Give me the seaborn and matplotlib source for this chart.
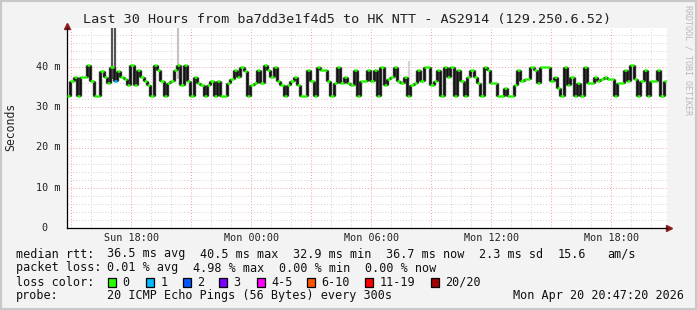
import numpy as np
import pandas as pd
import matplotlib
matplotlib.use("Agg")
import matplotlib.pyplot as plt
import seaborn as sns

# ---------------- data ----------------
start_hour = 14.789          # Sun 14:47:20, hours since Sun 00:00
span_hours = 30.0
step_hours = 1.0 / 6.0       # 10-minute samples

median_ms = [
    32.9, 36.6, 37.4, 32.9, 37.4, 37.4, 40.4, 36.6, 32.9, 32.9, 39.1, 37.4, 36.0, 39.9, 36.6, 39.1, 37.4, 37.1,
    35.6, 40.4, 35.6, 39.3, 37.4, 36.6, 35.6, 32.9, 40.4, 39.3, 36.6, 32.9, 36.0, 36.6, 39.3, 40.4, 35.6, 40.4,
    36.6, 32.9, 37.4, 36.0, 35.6, 32.9, 35.6, 36.6, 32.9, 36.6, 32.9, 32.9, 36.0, 37.1, 39.3, 37.4, 39.9, 39.1,
    32.9, 35.6, 36.0, 39.3, 36.0, 40.4, 39.3, 37.4, 39.9, 36.6, 35.6, 32.9, 35.6, 36.6, 37.4, 35.6, 32.9, 32.9,
    39.3, 36.6, 32.9, 39.9, 39.3, 39.3, 36.6, 32.9, 36.0, 39.9, 36.0, 37.4, 36.0, 35.6, 39.3, 32.9, 36.6, 36.6,
    39.3, 36.6, 39.3, 32.9, 39.9, 35.6, 37.1, 37.4, 39.9, 36.6, 36.0, 37.4, 32.9, 35.6, 36.0, 39.3, 36.6, 39.9,
    39.9, 35.6, 36.6, 39.3, 32.9, 39.9, 37.4, 39.9, 32.9, 39.3, 36.6, 32.9, 37.4, 39.3, 37.4, 36.0, 32.9, 39.9,
    39.3, 36.0, 36.0, 32.9, 32.9, 34.8, 32.9, 32.9, 35.6, 39.3, 36.6, 37.1, 37.1, 39.9, 39.3, 36.0, 39.9, 39.9,
    39.9, 36.6, 37.4, 34.8, 32.9, 39.9, 35.6, 37.4, 32.9, 36.0, 32.9, 39.9, 36.0, 36.0, 37.4, 36.6, 37.1, 37.6,
    37.1, 37.1, 32.9, 36.0, 36.0, 39.3, 36.6, 40.4, 37.1, 32.9, 36.6, 39.3, 32.9, 36.6, 36.6, 39.3, 32.9, 36.6,
]
loss_sample_index = [14]          # sample with 1/20 loss (blue)

spike_hours = [17.04, 17.19, 20.34, 31.89]
spike_lo = [37.0, 37.0, 37.0, 36.6]
spike_hi = [60.0, 60.0, 60.0, 41.5]
spike_colors = ["#555555", "#555555", "#c4c4c4", "#d4d4d4"]

label_hours = [18, 24, 30, 36, 42]
label_texts = ["Sun 18:00", "Mon 00:00", "Mon 06:00", "Mon 12:00", "Mon 18:00"]
ytick_values = [0, 10, 20, 30, 40]
ytick_texts = ["0", "10 m", "20 m", "30 m", "40 m"]

title = "Last 30 Hours from ba7dd3e1f4d5 to HK NTT - AS2914 (129.250.6.52)"
loss_labels = ["0", "1", "2", "3", "4-5", "6-10", "11-19", "20/20"]
loss_colors = ["#26ff00", "#00b8ff", "#0059ff", "#7e00ff", "#ff00ff", "#ff5500", "#ff0000", "#a10000"]

# ---------------- figure ----------------
sns.set_style("white")
plt.rcParams["font.family"] = ["DejaVu Sans Mono"]
W, H = 697, 310
BG = "#f3f3f3"
fig = plt.figure(figsize=(W / 100, H / 100), dpi=100, facecolor=BG)

def fx(x):
    return x / W

def fy(y):
    return 1 - y / H

ax = fig.add_axes([fx(67), fy(228), 600 / W, 200 / H])
ax.set_facecolor("white")
ymax = 200 / 4.025
ax.set_xlim(start_hour, start_hour + span_hours)
ax.set_ylim(0, ymax)

# grid
for h in np.arange(15, 45, 1):
    major = (h % 3 == 0)
    ax.axvline(h, color="#f0a0a0" if major else "#d2d2d2", lw=0.7,
               ls=(0, (1, 2)), zorder=0)
for v in np.arange(2, 50, 2):
    major = (v % 10 == 0)
    ax.axhline(v, color="#f0a0a0" if major else "#d2d2d2", lw=0.7,
               ls=(0, (1, 2)), zorder=0)

df = pd.DataFrame({
    "t": start_hour + step_hours * np.arange(len(median_ms)),
    "median": median_ms,
})

# spikes (smoke outliers)
ax.vlines(spike_hours, spike_lo, spike_hi, colors=spike_colors, lw=1.6, zorder=1)

# smoke transitions
m = np.asarray(df["median"])
t = np.asarray(df["t"])
lo = np.minimum(m[1:], m[:-1])
hi = np.maximum(m[1:], m[:-1])
ax.vlines(t[1:], lo, hi, colors="#2e2e2e", lw=2.4, zorder=2)

# thin median step line
sns.lineplot(data=df, x="t", y="median", drawstyle="steps-post", color="#111111",
             lw=0.7, estimator=None, ax=ax, zorder=3)

# median marks coloured by loss
cols = [loss_colors[1] if i in loss_sample_index else loss_colors[0] for i in range(len(m))]
ax.hlines(m, t, t + step_hours, colors=cols, lw=1.8, zorder=4)

ax.set_xlabel("")
ax.set_ylabel("")
for s in ["top", "right"]:
    ax.spines[s].set_visible(False)
for s in ["left", "bottom"]:
    ax.spines[s].set_color("#000000")
    ax.spines[s].set_linewidth(0.9)

ax.set_xticks(np.arange(15, 45, 3))
ax.set_xticklabels([])
ax.set_yticks(ytick_values)
ax.set_yticklabels([])
ax.tick_params(axis="both", length=3, width=0.8, color="#000000", direction="out")

# arrows
ax.plot([0], [1.01], marker="^", color="#8a1c1c", ms=5, transform=ax.transAxes, clip_on=False)
ax.plot([1.003], [0], marker=">", color="#8a1c1c", ms=5, transform=ax.transAxes, clip_on=False)

# tick labels
for h, lab in zip(label_hours, label_texts):
    x = 67 + (h - start_hour) * 20
    fig.text(fx(x), fy(238), lab, ha="center", va="center", fontsize=7.3, color="#222222")
for v, lab in zip(ytick_values, ytick_texts):
    y = 228 - v * 4.025
    xr = 47 if v == 0 else 60
    fig.text(fx(xr), fy(y), lab, ha="right", va="center", fontsize=7.3, color="#222222")

fig.text(fx(347), fy(19), title, ha="center", va="center", fontsize=9.7, color="#222222")
fig.text(fx(11), fy(127), "Seconds", rotation=90, ha="center", va="center", fontsize=8.3, color="#222222")
fig.text(fx(688), fy(5), "RRDTOOL / TOBI OETIKER", rotation=270, ha="center", va="top",
         fontsize=6, color="#b8b8b8")

fs = 8.5
tc = "#111111"
rows = [
    (254, [(16, "median rtt:"), (107, "36.5 ms avg"), (200, "40.5 ms max"), (293, "32.9 ms min"),
           (386, "36.7 ms now"), (479, "2.3 ms sd"), (558, "15.6"), (607, "am/s")]),
    (268, [(16, "packet loss:"), (107, "0.01 % avg"), (193, "4.98 % max"), (279, "0.00 % min"),
           (365, "0.00 % now")]),
    (296, [(16, "probe:"), (107, "20 ICMP Echo Pings (56 Bytes) every 300s"),
           (513, "Mon Apr 20 20:47:20 2026")]),
]
for y, items in rows:
    for x, s in items:
        fig.text(fx(x), fy(y), s, ha="left", va="center", fontsize=fs, color=tc)

fig.text(fx(16), fy(282), "loss color:", ha="left", va="center", fontsize=fs, color=tc)
box_x = [108, 146, 183, 219, 257, 307, 365, 431]
for bx, lab, c in zip(box_x, loss_labels, loss_colors):
    fig.patches.append(plt.Rectangle((fx(bx), fy(286.5)), 8 / W, 8.5 / H, transform=fig.transFigure,
                                     facecolor=c, edgecolor="#000000", lw=0.9))
    fig.text(fx(bx + 14.5), fy(282), lab, ha="left", va="center", fontsize=fs, color=tc)

# frame
fig.patches.append(plt.Rectangle((0, 0), 1, 1, transform=fig.transFigure, fill=False,
                                 edgecolor="#c8c8c8", lw=3))

fig.savefig("out.png", dpi=100, facecolor=BG)
